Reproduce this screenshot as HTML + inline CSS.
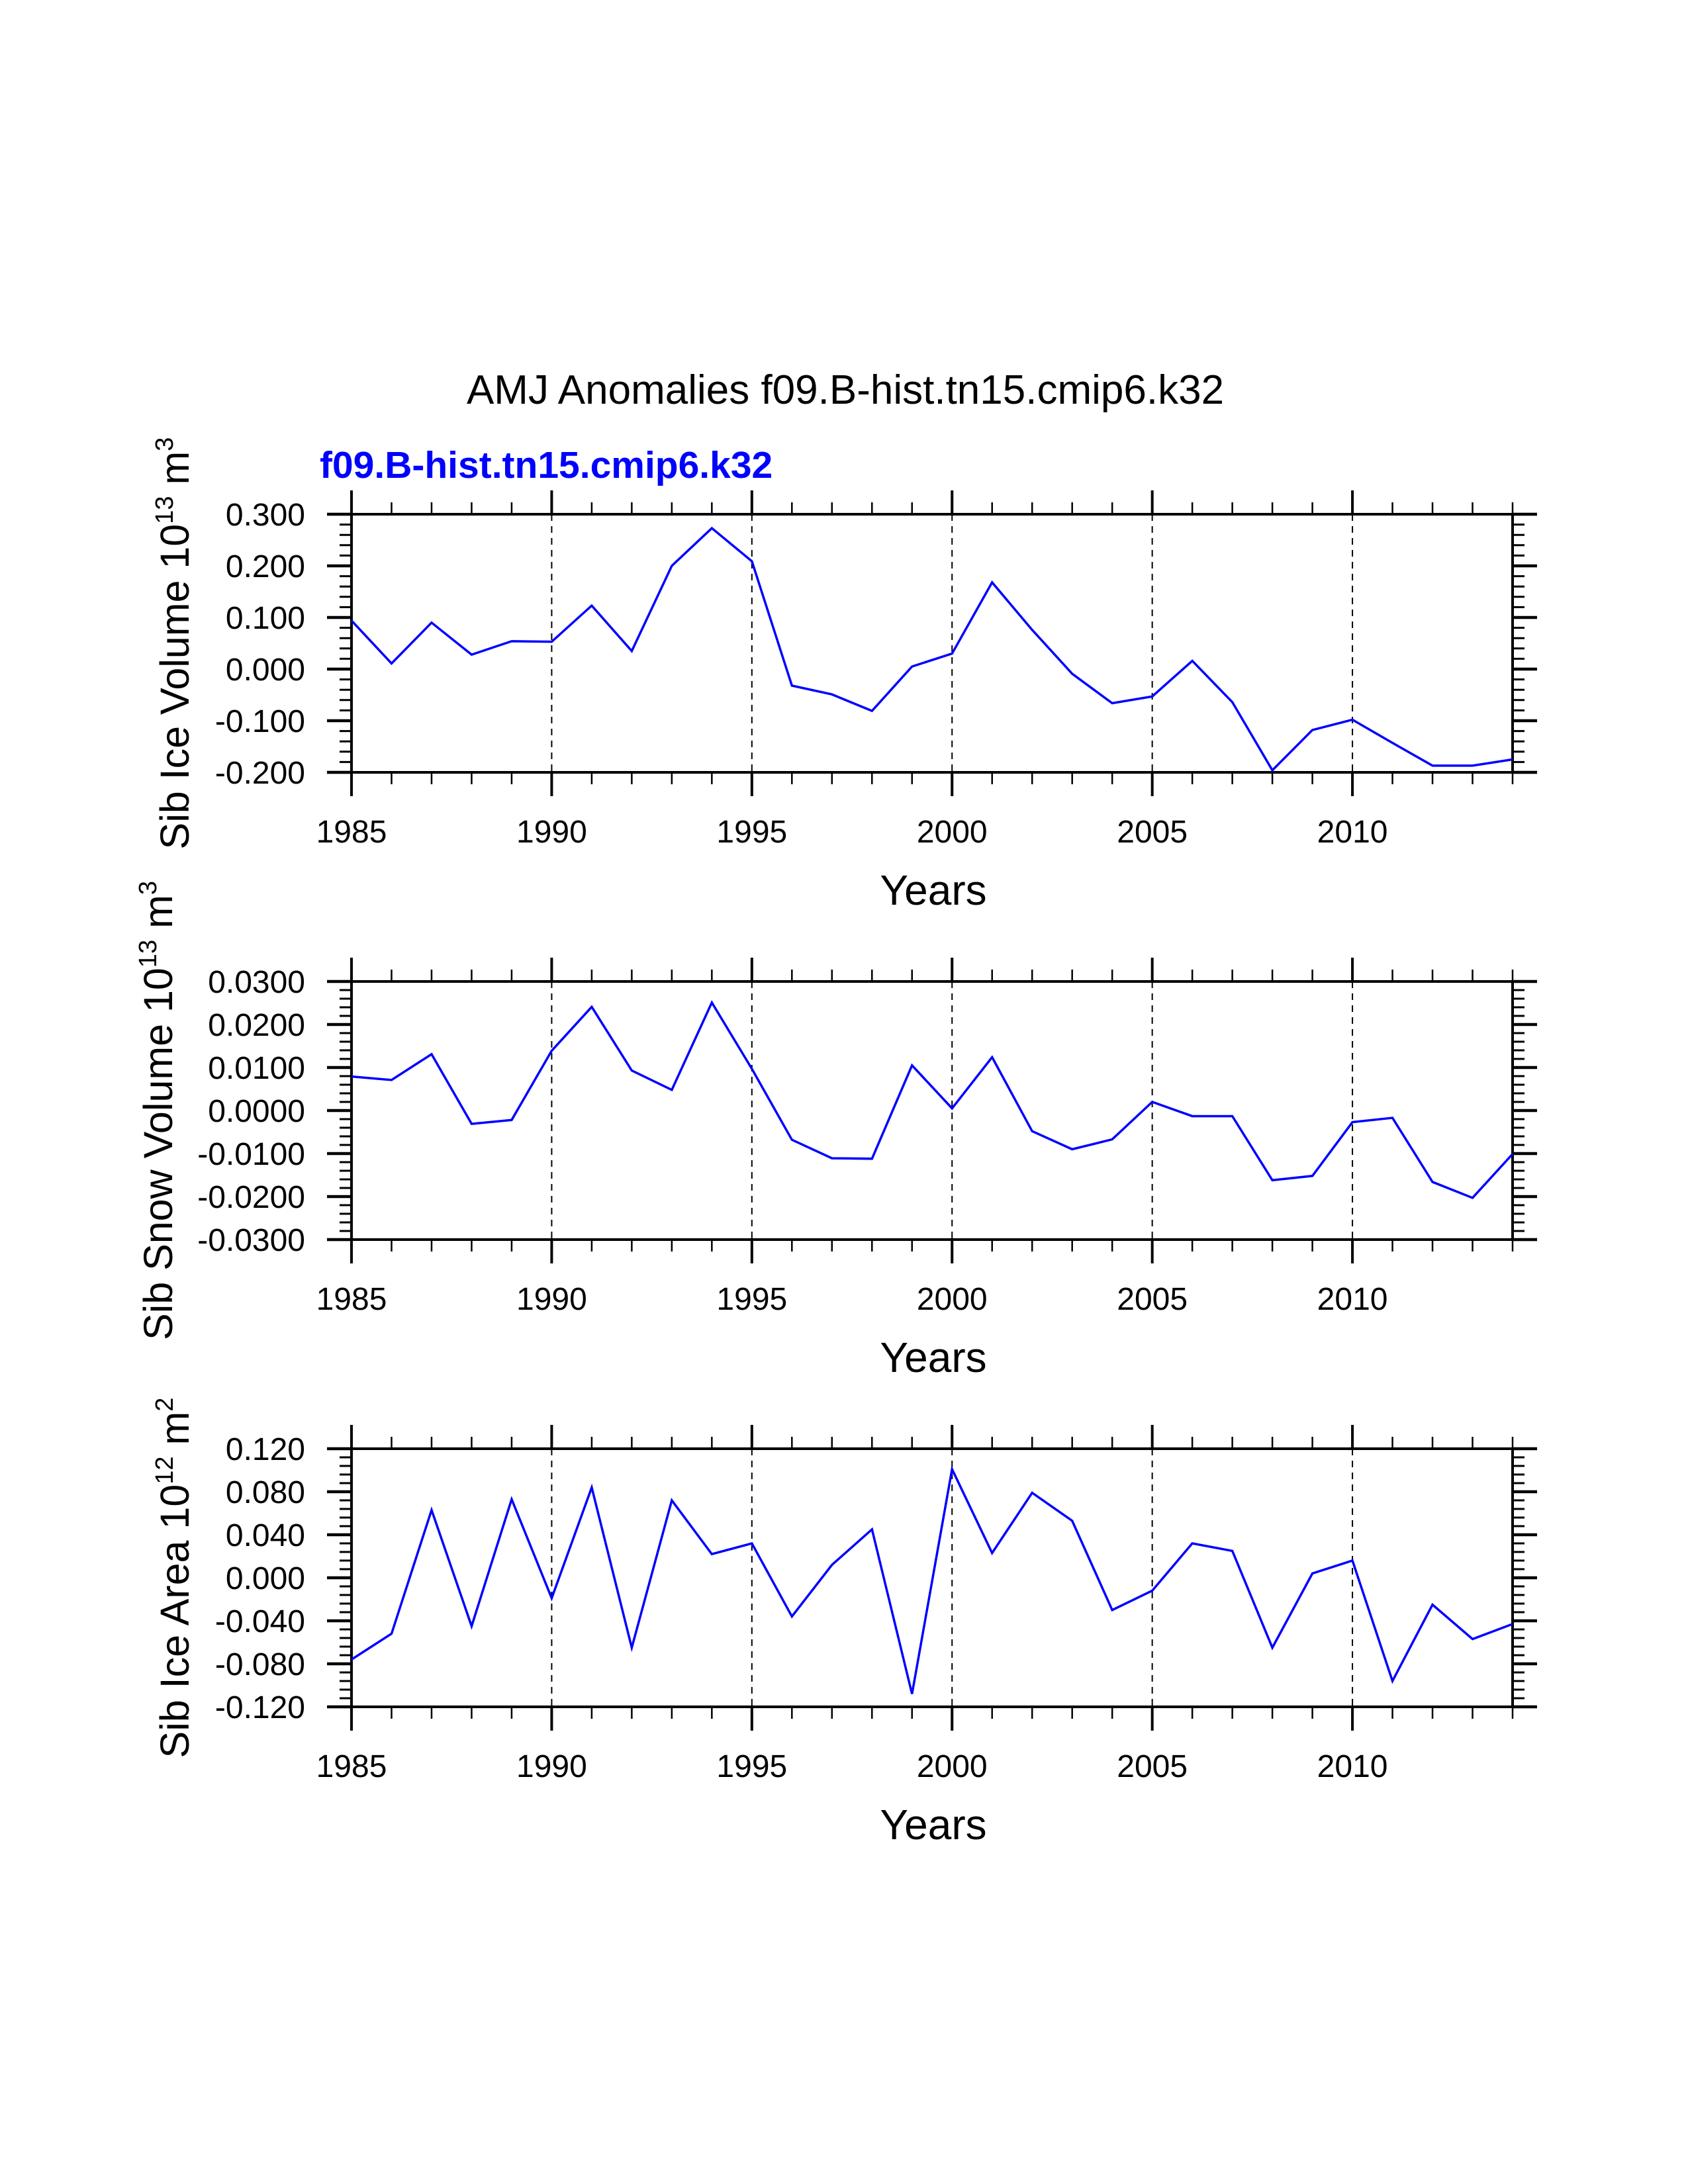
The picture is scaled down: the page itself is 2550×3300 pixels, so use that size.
<!DOCTYPE html>
<html><head><meta charset="utf-8"><style>
html,body{margin:0;padding:0;background:#fff;}
svg{display:block;font-family:"Liberation Sans",sans-serif;}
</style></head><body>
<svg id="chart" width="2550" height="3300" viewBox="0 0 2550 3300" xmlns="http://www.w3.org/2000/svg">
<rect width="2550" height="3300" fill="#fff"/>
<text x="1277" y="610" font-size="62" text-anchor="middle">AMJ Anomalies f09.B-hist.tn15.cmip6.k32</text>
<text x="483" y="722" font-size="57" font-weight="bold" fill="#0000ff">f09.B-hist.tn15.cmip6.k32</text>
</svg>
<script>
const years = [1985,1986,1987,1988,1989,1990,1991,1992,1993,1994,1995,1996,1997,1998,1999,2000,2001,2002,2003,2004,2005,2006,2007,2008,2009,2010,2011,2012,2013,2014];
const iceVolume = [0.094,0.011,0.090,0.028,0.054,0.053,0.123,0.035,0.200,0.273,0.209,-0.032,-0.049,-0.081,0.005,0.030,0.168,0.076,-0.009,-0.066,-0.053,0.016,-0.064,-0.196,-0.118,-0.098,-0.143,-0.187,-0.187,-0.175];
const snowVolume = [0.0079,0.0071,0.0131,-0.0031,-0.0022,0.0139,0.0241,0.0093,0.0048,0.0251,0.0097,-0.0068,-0.0111,-0.0112,0.0105,0.0005,0.0124,-0.0048,-0.0090,-0.0067,0.0020,-0.0013,-0.0013,-0.0162,-0.0152,-0.0027,-0.0017,-0.0166,-0.0203,-0.0101];
const iceArea = [-0.076,-0.052,0.063,-0.045,0.073,-0.019,0.084,-0.065,0.072,0.022,0.032,-0.036,0.012,0.045,-0.108,0.101,0.023,0.079,0.053,-0.030,-0.012,0.032,0.025,-0.065,0.004,0.016,-0.096,-0.025,-0.057,-0.043];
const xTickLabels = ["1985","1990","1995","2000","2005","2010"];
const iceVolTicks = ["0.300","0.200","0.100","0.000","-0.100","-0.200"];
const snowVolTicks = ["0.0300","0.0200","0.0100","0.0000","-0.0100","-0.0200","-0.0300"];
const iceAreaTicks = ["0.120","0.080","0.040","0.000","-0.040","-0.080","-0.120"];

const NS = "http://www.w3.org/2000/svg";
const svg = document.getElementById('chart');
function mk(tag, attrs, parent){const e=document.createElementNS(NS,tag);for(const k in attrs)e.setAttribute(k,attrs[k]);(parent||svg).appendChild(e);return e;}

const L=531,R=2285,H=390;
const x=yr=>L+(yr-1985)*(R-L)/29;

function panel(top, vals, ticks, ymin, ymax, minorStep, titleMain, exp, unit, titleX, pname){
  const g=mk('g',{});
  
  
  const B=top+H;
  const y=v=>B-(v-ymin)/(ymax-ymin)*H;
  for(const yr of [1990,1995,2000,2005,2010]){
    const d=mk('line',{x1:x(yr),x2:x(yr),y1:top,y2:B,stroke:'#000','stroke-width':2,'stroke-dasharray':'10,8'},g);
    
    
  }
  for(let yr=1985;yr<=2014;yr++){
    const maj=(yr%5===0), len=maj?36:18, w=maj?4:2.5;
    mk('line',{x1:x(yr),x2:x(yr),y1:top,y2:top-len,stroke:'#000','stroke-width':w},g);
    mk('line',{x1:x(yr),x2:x(yr),y1:B,y2:B+len,stroke:'#000','stroke-width':w},g);
  }
  xTickLabels.forEach(t=>{
    const e=mk('text',{x:x(+t),y:B+106,'font-size':48,'text-anchor':'middle'},g);e.textContent=t;
    
    
  });
  const n=Math.round((ymax-ymin)/minorStep);
  for(let i=0;i<=n;i++){
    const yy=B-i*H/n, maj=(i%5===0), len=maj?37:18, w=maj?4.5:3;
    mk('line',{x1:L,x2:L-len,y1:yy,y2:yy,stroke:'#000','stroke-width':w},g);
    mk('line',{x1:R,x2:R+len,y1:yy,y2:yy,stroke:'#000','stroke-width':w},g);
  }
  ticks.forEach(t=>{
    const e=mk('text',{x:461,y:y(parseFloat(t))+17,'font-size':48,'text-anchor':'end'},g);e.textContent=t;
    
    
  });
  const f=mk('rect',{x:L,y:top,width:R-L,height:H,fill:'none',stroke:'#000','stroke-width':4},g);
  
  
  const pts=vals.map((v,i)=>x(years[i])+','+y(v)).join(' ');
  const pl=mk('polyline',{points:pts,fill:'none',stroke:'#0000ff','stroke-width':3.5,'stroke-linejoin':'miter'},g);
  
  
  const xt=mk('text',{x:1410,y:B+200,'font-size':64,'text-anchor':'middle'},g);xt.textContent='Years';
  
  
  const cy=top+H/2;
  const yt=mk('text',{x:0,y:0,'font-size':61,'text-anchor':'middle',transform:`translate(${titleX+22},${cy}) rotate(-90)`},g);
  
  
  const s1=document.createElementNS(NS,'tspan');s1.textContent=titleMain+' 10';yt.appendChild(s1);
  const s2=document.createElementNS(NS,'tspan');s2.setAttribute('dy','-24');s2.setAttribute('font-size','38');s2.textContent=exp;yt.appendChild(s2);
  const s3=document.createElementNS(NS,'tspan');s3.setAttribute('dy','24');s3.textContent=' m';yt.appendChild(s3);
  const s4=document.createElementNS(NS,'tspan');s4.setAttribute('dy','-24');s4.setAttribute('font-size','38');s4.textContent=unit;yt.appendChild(s4);
}
panel(777, iceVolume, iceVolTicks, -0.2, 0.3, 0.02, 'Sib Ice Volume', '13', '3', 263, 'ice-volume-panel');
panel(1483, snowVolume, snowVolTicks, -0.03, 0.03, 0.002, 'Sib Snow Volume', '13', '3', 238, 'snow-volume-panel');
panel(2189, iceArea, iceAreaTicks, -0.12, 0.12, 0.008, 'Sib Ice Area', '12', '2', 263, 'ice-area-panel');
</script>
</body></html>
